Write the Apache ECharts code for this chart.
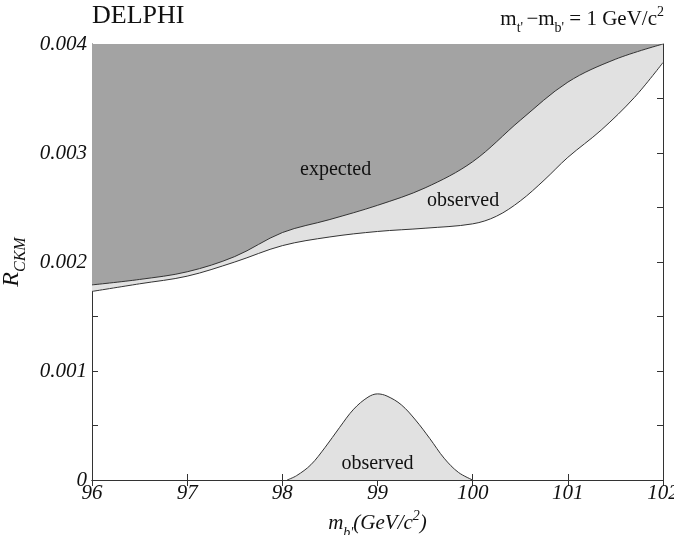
<!DOCTYPE html>
<html>
<head>
<meta charset="utf-8">
<script src="https://cdn.jsdelivr.net/npm/echarts@6/dist/echarts.min.js"></script>
<style>
html,body{margin:0;padding:0;background:#fff;}
#main{width:674px;height:535px;}
</style>
</head>
<body>
<div id="main"></div>
<script>
// 期望上限曲线 (expected)
var expX = [96.0, 96.5, 97.0, 97.5, 98.0, 98.5, 99.0, 99.5, 100.0, 100.5, 101.0, 101.5, 102.0];
var expY = [0.00179, 0.00184, 0.00191, 0.00205, 0.00227, 0.00239, 0.00252, 0.00268, 0.00292, 0.0033, 0.00365, 0.00386, 0.004];
// 观测上限曲线 (observed, 上方区域)
var obsX = [96.0, 96.5, 97.0, 97.5, 98.0, 98.5, 99.0, 99.5, 100.0, 100.25, 100.5, 100.75, 101.0, 101.35, 101.7, 102.0];
var obsY = [0.00173, 0.0018, 0.00187, 0.002, 0.00215, 0.00223, 0.00228, 0.00231, 0.00235, 0.00242, 0.00256, 0.00275, 0.00296, 0.00321, 0.00351, 0.00383];
// 观测排除区域 (下方小峰)
var bumpX = [98.05, 98.15, 98.3, 98.45, 98.6, 98.75, 98.9, 99.0, 99.1, 99.25, 99.4, 99.55, 99.7, 99.85, 100.0];
var bumpY = [0, 0.00004, 0.00014, 0.0003, 0.00048, 0.00065, 0.00076, 0.00079, 0.00077, 0.00069, 0.00055, 0.00038, 0.0002, 0.00007, 0];
var xTicks = [96, 97, 98, 99, 100, 101, 102];

function pairs(xs, ys){
	var out = [];
	for (var i = 0; i < xs.length; i++) {
		out.push([xs[i], ys[i]]);
	}
	return out;
}

var serif = 'Liberation Serif';
var myChart = echarts.init(document.getElementById('main'));

var option = {
	animation: false,
	grid: { left: 92, right: 11, top: 44, bottom: 55, containLabel: false, outerBoundsMode: 'none' },
	xAxis: [{
		type: 'value',
		min: xTicks[0],
		max: xTicks[xTicks.length - 1],
		interval: 1,
		axisLine: { lineStyle: { color: '#333', width: 1 } },
		axisTick: { inside: true, length: 6, lineStyle: { color: '#333' } },
		splitLine: { show: false },
		axisLabel: { color: '#111', fontFamily: serif, fontStyle: 'italic', fontSize: 21, margin: 3 },
		name: '{i|m}{sub|b\'}{i|(GeV/c}{sup|2}{i|)}',
		nameLocation: 'middle',
		nameGap: 30,
		nameTextStyle: {
			rich: {
				i: { fontFamily: serif, fontStyle: 'italic', fontSize: 21, color: '#111', lineHeight: 26, verticalAlign: 'middle' },
				sub: { fontFamily: serif, fontStyle: 'italic', fontSize: 14, color: '#111', lineHeight: 26, verticalAlign: 'bottom', padding: [0, 0, -3, 0] },
				sup: { fontFamily: serif, fontStyle: 'italic', fontSize: 14, color: '#111', lineHeight: 26, verticalAlign: 'top', padding: [-2, 0, 0, 0] }
			}
		}
	}, {
		type: 'value',
		position: 'top',
		min: xTicks[0],
		max: xTicks[xTicks.length - 1],
		interval: 1,
		axisLine: { show: true, lineStyle: { color: '#333', width: 1 } },
		axisTick: { inside: true, length: 6, lineStyle: { color: '#333' } },
		axisLabel: { show: false },
		splitLine: { show: false }
	}],
	yAxis: [{
		type: 'value',
		min: 0,
		max: 0.004,
		interval: 0.0005,
		axisLine: { show: true, lineStyle: { color: '#333', width: 1 } },
		axisTick: { inside: true, length: 6, lineStyle: { color: '#333' } },
		splitLine: { show: false },
		axisLabel: {
			color: '#111', fontFamily: serif, fontStyle: 'italic', fontSize: 21, margin: 5,
			formatter: function (v) {
				if (v === 0) return '0';
				var k = Math.round(v * 10000);
				if (k % 10 !== 0) return '';
				return v.toFixed(3);
			}
		},
		name: '{i|R}{sub|CKM}',
		nameLocation: 'middle',
		nameRotate: 90,
		nameGap: 64,
		nameTextStyle: {
			rich: {
				i: { fontFamily: serif, fontStyle: 'italic', fontSize: 24, color: '#111', lineHeight: 28, verticalAlign: 'middle' },
				sub: { fontFamily: serif, fontStyle: 'italic', fontSize: 16, color: '#111', lineHeight: 28, verticalAlign: 'bottom', padding: [0, 0, -3, 0] }
			}
		}
	}, {
		type: 'value',
		position: 'right',
		min: 0,
		max: 0.004,
		interval: 0.0005,
		axisLine: { show: true, lineStyle: { color: '#333', width: 1 } },
		axisTick: { inside: true, length: 6, lineStyle: { color: '#333' } },
		axisLabel: { show: false },
		splitLine: { show: false }
	}],
	series: [{
		name: 'observed',
		type: 'line',
		smooth: 0.35,
		symbol: 'none',
		z: 1,
		data: pairs(obsX, obsY),
		lineStyle: { color: '#333', width: 1 },
		areaStyle: { origin: 'end', color: '#e1e1e1', opacity: 1 }
	}, {
		name: 'expected',
		type: 'line',
		smooth: 0.35,
		symbol: 'none',
		z: 2,
		data: pairs(expX, expY),
		lineStyle: { color: '#333', width: 1 },
		areaStyle: { origin: 'end', color: '#a3a3a3', opacity: 1 }
	}, {
		name: 'observed bump',
		type: 'line',
		smooth: 0.35,
		symbol: 'none',
		z: 2,
		data: pairs(bumpX, bumpY),
		lineStyle: { color: '#333', width: 1 },
		areaStyle: { origin: 'start', color: '#e1e1e1', opacity: 1 }
	}],
	graphic: [{
		type: 'text',
		left: 92,
		top: 3,
		style: { text: 'DELPHI', font: '26px "Liberation Serif"', fill: '#111' }
	}, {
		type: 'text',
		right: 10,
		top: 4,
		style: {
			text: '{n|m}{sub|t\'} {n|\u2212m}{sub|b\'}{n| = 1 GeV/c}{sup|2}',
			rich: {
				n: { fontFamily: serif, fontSize: 21, fill: '#111', lineHeight: 30, verticalAlign: 'middle' },
				sub: { fontFamily: serif, fontSize: 14, fill: '#111', lineHeight: 30, verticalAlign: 'bottom', padding: [0, 0, -1, 0] },
				sup: { fontFamily: serif, fontSize: 14, fill: '#111', lineHeight: 30, verticalAlign: 'top', padding: [1, 0, 0, 0] }
			}
		}
	}]
};

myChart.setOption(option);

// 区域标注文字
var notes = [
	{ text: 'expected', x: 98.56, y: 0.00285 },
	{ text: 'observed', x: 99.9, y: 0.00256 },
	{ text: 'observed', x: 99.0, y: 0.00015 }
];
var extra = [];
notes.forEach(function (n) {
	var p = myChart.convertToPixel({ gridIndex: 0 }, [n.x, n.y]);
	extra.push({
		type: 'text',
		x: p[0],
		y: p[1],
		z: 10,
		style: { text: n.text, font: '20px "Liberation Serif"', fill: '#111', align: 'center', verticalAlign: 'middle' }
	});
});
myChart.setOption({ graphic: option.graphic.concat(extra) });
</script>
</body>
</html>
